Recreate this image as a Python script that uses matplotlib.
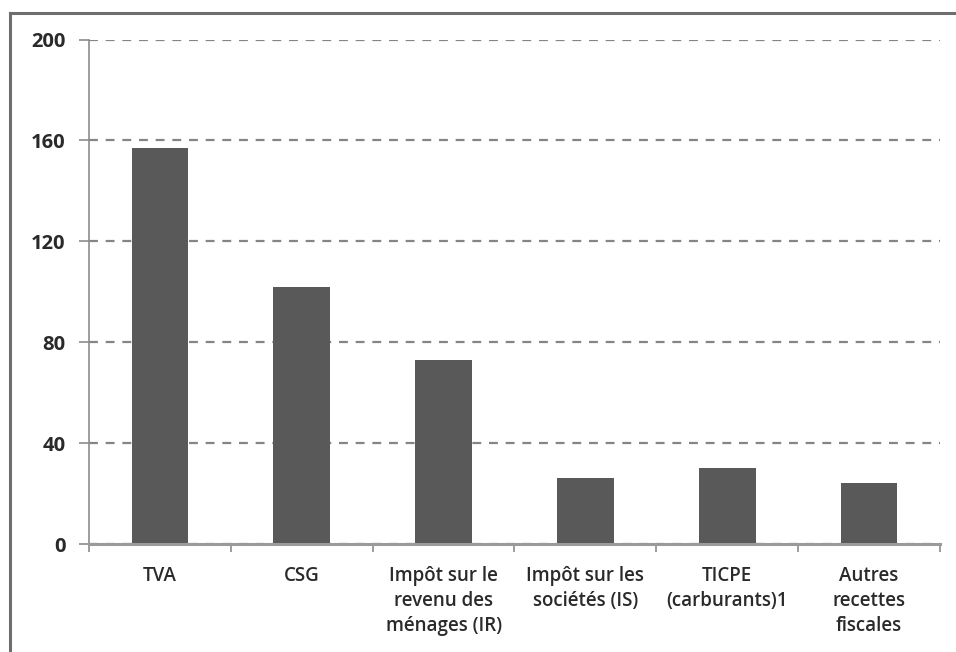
import matplotlib
matplotlib.use("Agg")
import matplotlib.pyplot as plt
from matplotlib.lines import Line2D
import numpy as np

categories = [
    "TVA",
    "CSG",
    "Impôt sur le\nrevenu des\nménages (IR)",
    "Impôt sur les\nsociétés (IS)",
    "TICPE\n(carburants)1",
    "Autres\nrecettes\nfiscales",
]
values = [157, 102, 73, 26, 30, 24]
yticks = [0, 40, 80, 120, 160, 200]

plt.rcParams["font.family"] = ["Open Sans", "DejaVu Sans"]

fig = plt.figure(figsize=(9.56, 6.52), dpi=100)
fig.patch.set_facecolor("white")
ax = fig.add_axes([89 / 956, 1 - 544 / 652, (940 - 89) / 956, (544 - 39.5) / 652])

x = np.arange(len(categories))
ax.bar(x, values, width=0.4, color="#595959", zorder=3)

ax.set_xlim(-0.5, len(categories) - 0.5)
ax.set_ylim(0, 200)
ax.set_yticks(yticks)
ax.set_yticklabels([str(v) for v in yticks], fontsize=14.5, fontweight="bold", color="#2a2a2a")

ax.yaxis.grid(True, linestyle=(0, (4, 3.5)), color="#858585", linewidth=1.6, zorder=1)
ax.set_axisbelow(True)

ax.set_xticks(x)
ax.set_xticklabels(categories, fontsize=13.5, fontweight="semibold", color="#2a2a2a",
                   linespacing=1.32)
ax.set_xticks(np.arange(-0.5, len(categories)), minor=True)
ax.tick_params(axis="x", which="major", length=0, pad=16)
ax.tick_params(axis="x", which="minor", length=6, width=1.2, color="#8c8c8c", direction="out")
ax.tick_params(axis="y", length=7, width=1.2, color="#8c8c8c", direction="out", pad=10)

for side in ("top", "right"):
    ax.spines[side].set_visible(False)
ax.spines["left"].set_color("#8c8c8c")
ax.spines["left"].set_linewidth(1.2)
ax.spines["bottom"].set_color("#9a9a9a")
ax.spines["bottom"].set_linewidth(2.2)
ax.spines["bottom"].set_zorder(4)

# outer frame on the left and top edges
fig.add_artist(Line2D([9.5 / 956, 9.5 / 956], [0, 1 - 12.5 / 652], transform=fig.transFigure,
                      color="#6e6e6e", linewidth=2.2))
fig.add_artist(Line2D([9.5 / 956, 1], [1 - 12.5 / 652, 1 - 12.5 / 652], transform=fig.transFigure,
                      color="#6e6e6e", linewidth=2.2))

fig.savefig("out.png", dpi=100, facecolor="white")
